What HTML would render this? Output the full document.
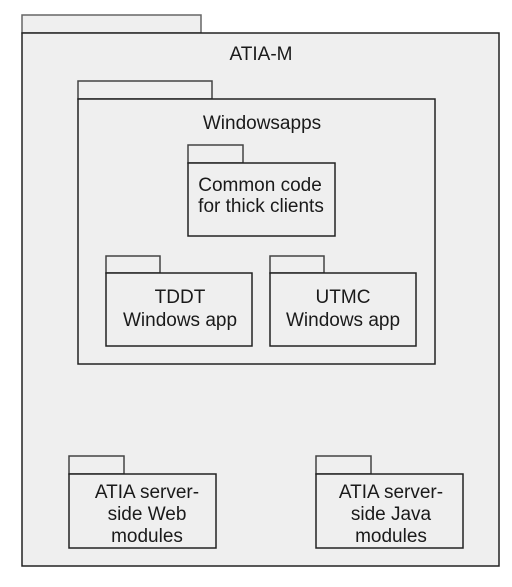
<!DOCTYPE html>
<html><head><style>html,body{margin:0;padding:0;background:#fff}svg{display:block}text{font-family:"Liberation Sans",Arial,sans-serif;font-size:19px;fill:#1a1a1a;text-anchor:middle}</style></head><body>
<svg width="512" height="587" viewBox="0 0 512 587">
<g fill="#efefef" stroke="#222" stroke-width="1.5">
<rect x="22" y="15" width="179" height="18" stroke="#666"/>
<rect x="22" y="33" width="477" height="533"/>
<rect x="78" y="81" width="134" height="18" stroke="#444"/>
<rect x="78" y="99" width="357" height="265"/>
<rect x="188" y="145" width="55" height="18" stroke="#444"/>
<rect x="188" y="163" width="147" height="73"/>
<rect x="106" y="256" width="54" height="17" stroke="#444"/>
<rect x="106" y="273" width="146" height="73"/>
<rect x="270" y="256" width="54" height="17" stroke="#444"/>
<rect x="270" y="273" width="146" height="73"/>
<rect x="69" y="456" width="55" height="18" stroke="#444"/>
<rect x="69" y="474" width="147" height="74"/>
<rect x="316" y="456" width="55" height="18" stroke="#444"/>
<rect x="316" y="474" width="147" height="74"/>
</g>
<text x="261" y="60">ATIA-M</text>
<text x="262" y="129">Windowsapps</text>
<text x="260" y="191">Common code</text>
<text x="261" y="212">for thick clients</text>
<text x="180" y="303">TDDT</text>
<text x="180" y="326">Windows app</text>
<text x="343" y="303">UTMC</text>
<text x="343" y="326">Windows app</text>
<text x="147" y="498">ATIA server-</text>
<text x="147" y="520">side Web</text>
<text x="147" y="542">modules</text>
<text x="391" y="498">ATIA server-</text>
<text x="391" y="520">side Java</text>
<text x="391" y="542">modules</text>
</svg>
</body></html>
